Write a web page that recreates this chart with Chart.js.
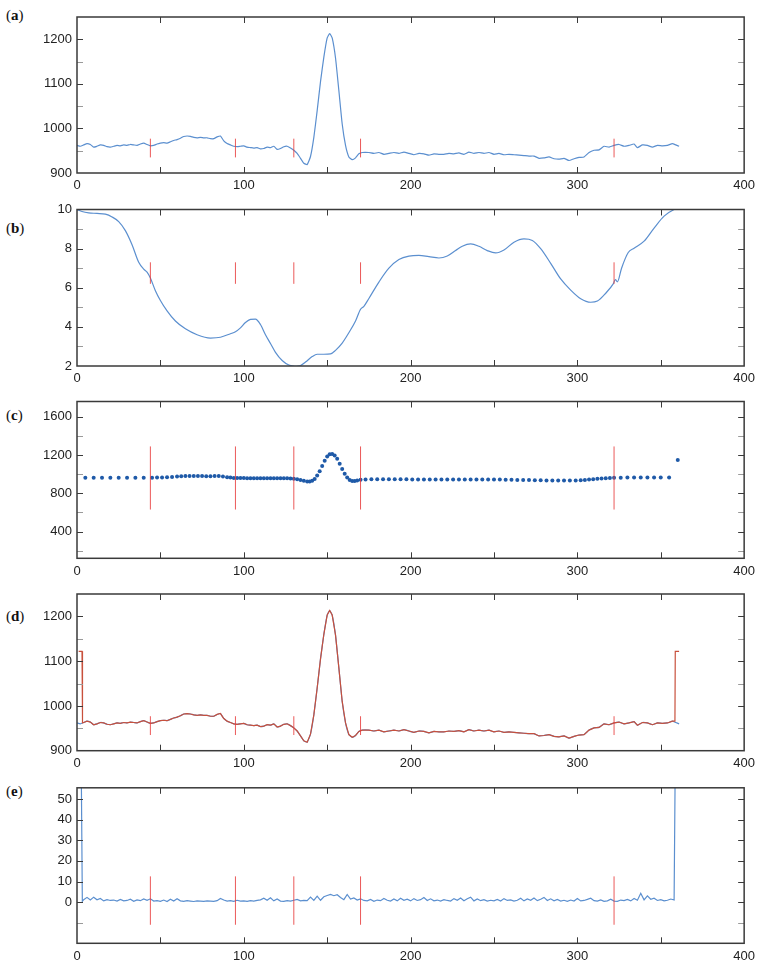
<!DOCTYPE html>
<html><head><meta charset="utf-8">
<script src="https://cdn.jsdelivr.net/npm/chart.js@4"></script>
<style>
html,body{margin:0;padding:0;background:#fff;}
body{width:760px;height:965px;position:relative;overflow:hidden;}
canvas{position:absolute;left:0;}
.lab{position:absolute;left:6px;font-family:"Liberation Serif","DejaVu Serif",serif;font-size:15px;color:#111;line-height:15px;}
</style></head><body>
<div class="lab" style="top:8px">(<b>a</b>)</div>
<div class="lab" style="top:221px">(<b>b</b>)</div>
<div class="lab" style="top:408px">(<b>c</b>)</div>
<div class="lab" style="top:609px">(<b>d</b>)</div>
<div class="lab" style="top:784px">(<b>e</b>)</div>
<canvas id="ca" width="760" height="195" style="top:0px;width:760px;height:195px"></canvas>
<canvas id="cb" width="760" height="190" style="top:195px;width:760px;height:190px"></canvas>
<canvas id="cc" width="760" height="195" style="top:385px;width:760px;height:195px"></canvas>
<canvas id="cd" width="760" height="195" style="top:580px;width:760px;height:195px"></canvas>
<canvas id="ce" width="760" height="190" style="top:775px;width:760px;height:190px"></canvas>
<script>
// ---------- data ----------
const xTickLabels = [0,100,200,300,400];
const xTickMarks = [50,100,150,200,250,300,350];

const yTicksA = [900,1000,1100,1200];
const yMarksA = [950,1000,1050,1100,1150,1200];
const yTicksB = [2,4,6,8,10];
const yMarksB = [3,4,5,6,7,8,9];
const yTicksC = [400,800,1200,1600];
const yMarksC = [200,400,600,800,1000,1200,1400,1600];
const yTicksE = [0,10,20,30,40,50];
const yMarksE = [-10,0,10,20,30,40,50];

const markerX = [44,95,130,170,322];
const markerSpanA = [935,977];
const markerSpanB = [6.2,7.3];
const markerSpanC = [630,1290];
const markerSpanE = [-11,12.5];

const seriesA = [[0,962],[2,960],[4,963],[6,966],[8,964],[10,958],[12,960],[14,963],[16,962],[18,959],[20,958],[22,960],[24,962],[26,961],[28,963],[30,962],[32,964],[34,963],[36,962],[38,965],[40,967],[42,964],[44,961],[46,962],[48,965],[50,967],[52,968],[54,967],[56,970],[58,973],[60,975],[62,978],[64,982],[66,983],[68,982],[70,980],[72,979],[74,980],[76,979],[78,979],[80,977],[82,977],[84,981],[86,983],[88,972],[90,966],[92,963],[94,960],[96,959],[98,960],[100,961],[102,958],[104,957],[106,956],[108,957],[110,954],[112,955],[114,958],[116,957],[118,960],[120,953],[122,955],[124,959],[126,960],[128,956],[130,951],[132,944],[134,933],[136,922],[138,919],[140,937],[142,980],[144,1040],[146,1105],[148,1160],[150,1203],[151.5,1213],[153,1203],[155,1158],[157,1085],[159,1010],[161,962],[163,936],[165,930],[167,934],[169,943],[171,946],[175,946],[178,944],[181,946],[184,942],[187,944],[190,946],[193,944],[196,947],[199,944],[202,941],[205,944],[208,943],[211,940],[214,943],[217,942],[220,942],[223,944],[226,943],[229,945],[232,942],[235,947],[238,944],[241,946],[244,944],[247,946],[250,942],[253,944],[256,941],[259,942],[262,941],[265,940],[268,939],[271,938],[274,938],[277,933],[280,934],[283,936],[286,932],[289,931],[292,933],[295,928],[298,932],[301,935],[304,936],[307,946],[310,951],[313,952],[316,960],[319,958],[322,962],[325,964],[328,960],[331,962],[334,965],[336,957],[339,963],[342,962],[345,958],[348,962],[351,961],[354,962],[357,966],[359,963],[361,960]];

const seriesB = [[0,10.0],[3,9.9],[7,9.83],[12,9.8],[17,9.76],[21,9.62],[25,9.38],[29,8.92],[33,8.2],[37,7.3],[40,6.95],[42,6.8],[44,6.5],[47,5.85],[50,5.35],[54,4.82],[59,4.3],[65,3.9],[72,3.6],[80,3.43],[86,3.47],[92,3.65],[95,3.75],[98,3.95],[101,4.22],[104,4.38],[107,4.4],[110,4.12],[113,3.6],[116,3.15],[119,2.7],[123,2.28],[127,2.05],[131,1.98],[134,2.02],[137,2.2],[141,2.48],[144,2.6],[148,2.6],[152,2.62],[155,2.8],[159,3.17],[163,3.7],[167,4.3],[170,4.9],[172,5.05],[175,5.45],[181,6.29],[187,7.0],[193,7.44],[199,7.62],[205,7.66],[211,7.59],[217,7.52],[222,7.62],[227,7.9],[231,8.12],[236,8.24],[241,8.12],[246,7.9],[251,7.78],[256,7.93],[262,8.33],[268,8.5],[273,8.42],[278,8.0],[284,7.25],[290,6.45],[296,5.88],[302,5.44],[308,5.26],[312,5.32],[317,5.72],[321.5,6.2],[322.8,6.42],[324,6.3],[326.5,7.0],[330.5,7.8],[334,8.02],[340,8.38],[346,9.05],[352,9.66],[358,10.0],[362,10.1]];

const seriesC = [[5,963],[10,963],[15,963],[20,963],[25,963],[30,963],[35,963],[40,963],[45,963],[48,964],[51,966],[54,968],[57,971],[60,975],[62.5,978],[65,981],[67.5,982],[70,981],[72.5,980],[75,980],[77.5,979],[80,979],[82.5,980],[85,980],[87.5,975],[90,968],[92,964],[94,961],[96,960],[98,960],[100,959],[102,958],[104,957],[106,957],[108,956],[110,956],[112,956],[114,957],[116,957],[118,957],[120,957],[122,957],[124,957],[126,956],[128,955],[130,952],[132,946],[134,938],[136,930],[138,924],[139.5,923],[141,930],[142.5,950],[144,985],[145.5,1030],[147,1085],[148.5,1140],[150,1185],[151.5,1207],[153,1210],[154.5,1195],[156,1160],[157.5,1110],[159,1055],[160.5,1005],[162,965],[163.5,940],[165,929],[166.5,928],[168,934],[170,941],[173,945],[176.5,946],[180,946],[183.5,946],[187,946],[190.5,946],[194,946],[197.5,946],[201,945],[204.5,945],[208,945],[211.5,945],[215,945],[218.5,945],[222,945],[225.5,945],[229,945],[232.5,945],[236,945],[239.5,945],[243,945],[246.5,944],[250,944],[253.5,943],[257,942],[260.5,941],[264,940],[267.5,939],[271,938],[274.5,937],[278,936],[281.5,935],[285,934],[288.5,933],[292,933],[295.5,933],[299,934],[302,936],[304.5,939],[307,943],[309.5,947],[312,951],[314.5,955],[317,958],[319.5,960],[322,962],[326,963],[330,964],[334,964],[338,964],[342,964],[346,964],[350,965],[355,965],[360.2,1148]];

const dRedStart = [[1,1122],[3,1122],[3.3,962]];
const dRedEnd = [[358.5,966],[358.7,1122],[361,1122]];

const seriesE = [[2.6,60],[3.2,0.4],[4,1.2],[6,2.3],[8,1.0],[10,2.4],[12,1.1],[14,1.8],[16,0.6],[18,1.2],[20,0.8],
[22,1.0],[24,0.5],[26,1.3],[28,0.6],[30,0.8],[32,1.4],[34,0.4],[36,1.1],[38,0.7],[40,1.5],
[42,0.9],[44,1.6],[46,0.5],[48,0.7],[50,0.4],[52,1.0],[54,0.3],[56,1.4],[58,0.5],[60,1.6],
[62,0.6],[64,0.4],[66,0.7],[68,0.5],[70,0.3],[72,0.6],[74,0.5],[76,0.4],[78,0.6],[80,0.5],
[82,0.4],[84,0.7],[86,1.8],[88,1.0],[90,0.5],[92,0.7],[94,0.4],[96,0.9],[98,0.5],[100,0.6],
[102,0.4],[104,0.7],[106,0.5],[108,0.8],[110,1.1],[112,1.9],[114,0.9],[116,2.1],[118,0.6],[120,1.5],
[122,0.5],[124,0.4],[126,0.7],[128,0.5],[130,0.9],[132,1.3],[134,0.6],[136,0.8],[138,0.7],[140,2.4],
[142,0.8],[144,2.9],[146,0.9],[148,2.6],[150,3.2],[152,3.7],[154,3.1],[156,3.6],[158,2.2],[160,1.2],
[162,3.7],[164,1.5],[166,2.0],[168,1.0],[170,1.6],[172,0.8],[174,0.6],[176,1.3],[178,0.4],[180,1.0],
[182,0.7],[184,1.8],[186,0.9],[188,0.5],[190,1.5],[192,0.6],[194,1.9],[196,0.9],[198,1.4],[200,0.6],
[202,1.7],[204,0.8],[206,1.2],[208,2.2],[210,0.8],[212,1.6],[214,0.6],[216,1.0],[218,0.5],[220,1.2],
[222,0.8],[224,0.5],[226,1.7],[228,0.9],[230,2.0],[232,0.7],[234,1.6],[236,2.4],[238,0.6],[240,1.5],
[242,0.7],[244,1.2],[246,0.5],[248,0.9],[250,0.6],[252,1.3],[254,0.5],[256,1.7],[258,0.8],[260,1.1],
[262,0.5],[264,0.9],[266,1.9],[268,0.6],[270,1.5],[272,0.9],[274,2.0],[276,0.7],[278,1.4],[280,2.3],
[282,0.8],[284,1.6],[286,0.6],[288,1.3],[290,0.5],[292,0.9],[294,0.4],[296,1.0],[298,0.5],[300,1.7],
[302,0.6],[304,0.8],[306,1.3],[308,1.9],[310,0.7],[312,0.5],[314,1.1],[316,0.4],[318,0.6],[320,1.4],
[322,0.5],[324,0.4],[326,1.0],[328,0.7],[330,1.3],[332,0.6],[334,1.8],[336,0.9],[338,4.3],[340,1.1],
[342,3.0],[344,1.4],[346,1.9],[348,0.8],[350,1.2],[352,0.6],[354,0.9],[356,1.5],[358,1.0],[358.6,60]];

// ---------- styling ----------
const BLUE = '#5b8fcf';
const DOT = '#1f5aa8';
const MARK = 'rgba(232,60,60,0.85)';
const DRED = '#c8503c';
const FONT = {family:'"Liberation Sans", Arial, Helvetica, sans-serif', size:13};

const toXY = arr => arr.map(p => ({x:p[0], y:p[1]}));
const lineDS = (arr, color, extra) => Object.assign({data: toXY(arr), showLine:true, borderColor:color, borderWidth:1.2, pointRadius:0, tension:0.15, fill:false}, extra||{});
const markerDS = span => markerX.map(m => ({data:[{x:m,y:span[0]},{x:m,y:span[1]}], showLine:true, borderColor:MARK, borderWidth:1, pointRadius:0, fill:false}));

const frameTicks = {
  id:'frameTicks',
  afterDraw(chart, args, opts){
    const {ctx, chartArea:a} = chart;
    const x = chart.scales.x, y = chart.scales.y;
    const L = 6;
    ctx.save();
    ctx.lineWidth = 1;
    const drawSet = (list, color, isX) => {
      ctx.strokeStyle = color;
      ctx.beginPath();
      list.forEach(v => {
        if (isX) {
          const px = Math.round(x.getPixelForValue(v)) + 0.5;
          ctx.moveTo(px, a.bottom); ctx.lineTo(px, a.bottom - L);
          ctx.moveTo(px, a.top); ctx.lineTo(px, a.top + L);
        } else {
          const py = Math.round(y.getPixelForValue(v)) + 0.5;
          ctx.moveTo(a.left, py); ctx.lineTo(a.left + L, py);
          ctx.moveTo(a.right, py); ctx.lineTo(a.right - L, py);
        }
      });
      ctx.stroke();
    };
    drawSet(opts.xMarks, '#3a3a3a', true);
    drawSet(opts.yMarks.filter(v => opts.yLabels.includes(v)), '#3a3a3a', false);
    drawSet(opts.yMarks.filter(v => !opts.yLabels.includes(v)), '#9a9a9a', false);
    ctx.strokeStyle = '#3a3a3a';
    ctx.lineWidth = 1.5;
    ctx.strokeRect(a.left, a.top, a.right - a.left, a.bottom - a.top);
    ctx.restore();
  }
};

function makeChart(id, H, T, B, ymin, ymax, yTicks, yMarks, datasets){
  return new Chart(document.getElementById(id), {
    type:'scatter',
    data:{datasets},
    options:{
      responsive:false, animation:false, events:[],
      layout:{padding:{left:0, right:13, top:T, bottom:0}},
      plugins:{legend:{display:false}, tooltip:{enabled:false}, frameTicks:{xMarks:xTickMarks, yMarks, yLabels:yTicks}},
      scales:{
        x:{type:'linear', min:0, max:400,
           afterFit:s => { s.height = H - B; },
           afterBuildTicks:s => { s.ticks = xTickLabels.map(v => ({value:v})); },
           grid:{display:false, drawTicks:false}, border:{display:false},
           ticks:{padding:5, color:'#222', font:FONT, maxRotation:0, autoSkip:false, callback:v => String(v)}},
        y:{type:'linear', min:ymin, max:ymax,
           afterFit:s => { s.width = 77; },
           afterBuildTicks:s => { s.ticks = yTicks.map(v => ({value:v})); },
           grid:{display:false, drawTicks:false}, border:{display:false},
           ticks:{padding:5, color:'#222', font:FONT, autoSkip:false, callback:v => String(v)}}
      }
    },
    plugins:[frameTicks]
  });
}

// (a)
makeChart('ca', 195, 17, 173, 900, 1250, yTicksA, yMarksA,
  [...markerDS(markerSpanA), lineDS(seriesA, BLUE)]);
// (b)
makeChart('cb', 190, 14.5, 171, 2, 10, yTicksB, yMarksB,
  [...markerDS(markerSpanB), lineDS(seriesB, BLUE, {cubicInterpolationMode:'monotone'})]);
// (c)
makeChart('cc', 195, 16.5, 173.3, 120, 1760, yTicksC, yMarksC,
  [...markerDS(markerSpanC), {data:toXY(seriesC), showLine:false, pointRadius:2, pointBackgroundColor:DOT, pointBorderWidth:0, backgroundColor:DOT}]);
// (d)
const dRedInterior = seriesA.filter(p => p[0] > 3.3 && p[0] < 358.5);
makeChart('cd', 195, 14, 170.7, 900, 1250, yTicksA, yMarksA,
  [...markerDS(markerSpanA), lineDS([...dRedStart, ...dRedInterior, ...dRedEnd], DRED, {tension:0}), lineDS(seriesA, BLUE)]);
// (e)
makeChart('ce', 190, 12, 168.3, -20, 55.5, yTicksE, yMarksE,
  [...markerDS(markerSpanE), lineDS(seriesE, BLUE, {tension:0})]);
</script>
</body></html>
